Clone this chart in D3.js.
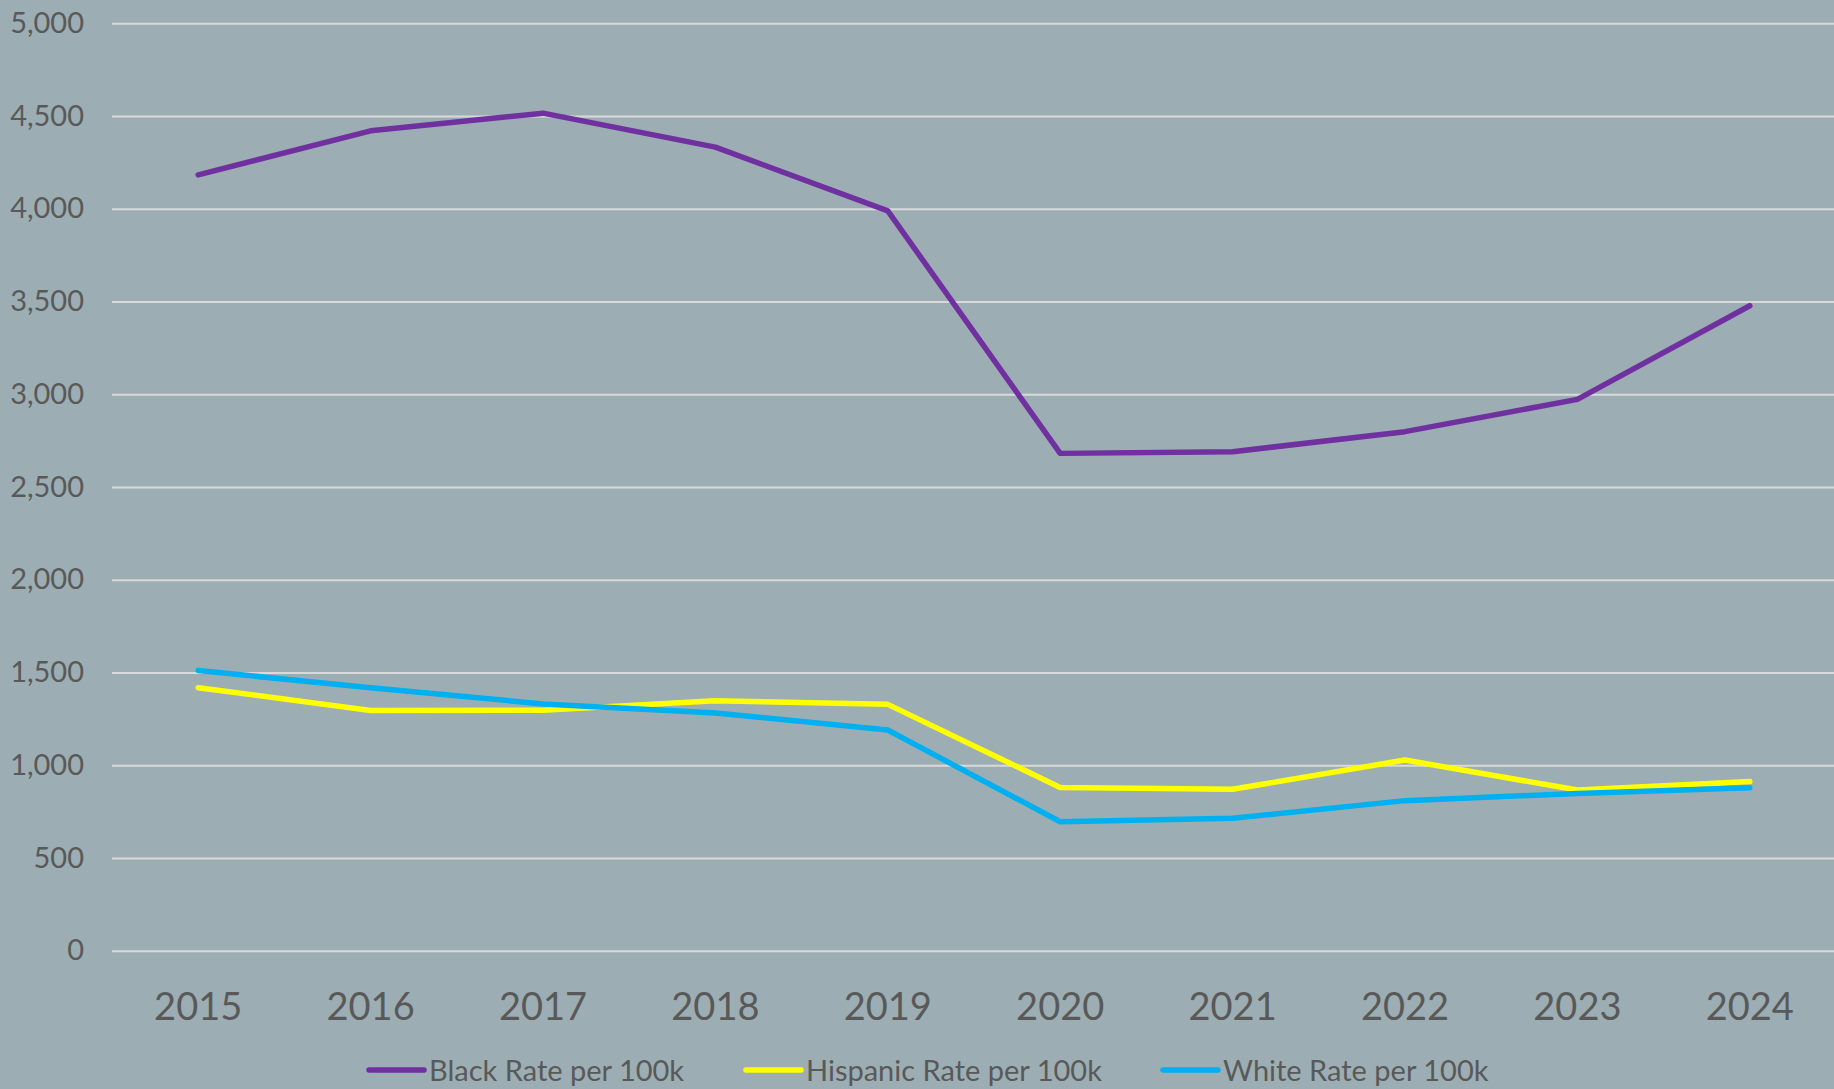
<!DOCTYPE html>
<html>
<head>
<meta charset="utf-8">
<script src="https://cdn.jsdelivr.net/npm/d3@7"></script>
<style>
  html, body { margin: 0; padding: 0; background: #9caeb3; }
  svg { display: block; }
</style>
</head>
<body>
<div id="chart"></div>
<script>
var years = ["2015", "2016", "2017", "2018", "2019", "2020", "2021", "2022", "2023", "2024"];
var black = [4182, 4420, 4515, 4332, 3988, 2681, 2690, 2798, 2972, 3477];
var hispanic = [1418, 1295, 1296, 1347, 1328, 880, 870, 1028, 866, 912];
var white = [1510, 1418, 1330, 1282, 1190, 695, 714, 809, 848, 879];
var yTicks = [0, 500, 1000, 1500, 2000, 2500, 3000, 3500, 4000, 4500, 5000];

var series = [
  { name: "Black Rate per 100k", values: black, color: "#7030a0" },
  { name: "Hispanic Rate per 100k", values: hispanic, color: "#ffff00" },
  { name: "White Rate per 100k", values: white, color: "#00b0f0" }
];

var width = 1834, height = 1089;
var plotLeft = 112, plotRight = 1836, plotTop = 23.2, plotBottom = 950.7;
var textColor = "#595959";
var font = '"Gill Sans", "Gill Sans MT", Lato, sans-serif';

var svg = d3
  .select("#chart")
  .append("svg")
  .attr("width", width)
  .attr("height", height)
  .attr("font-family", font);

var x = d3.scaleBand().domain(years).range([plotLeft, plotRight]).padding(0);
var y = d3.scaleLinear().domain([0, 5000]).range([plotBottom, plotTop]);

// gridlines + y labels
var yAxis = svg
  .append("g")
  .attr("transform", "translate(" + plotLeft + ",0)")
  .call(
    d3.axisLeft(y)
      .tickValues(yTicks)
      .tickSize(-(width - plotLeft))
      .tickPadding(28)
      .tickFormat(d3.format(","))
  )
  .attr("font-family", font);
yAxis.select(".domain").remove();
yAxis.selectAll(".tick line").attr("stroke", "#d9d9d9").attr("stroke-width", 2);
yAxis
  .selectAll(".tick text")
  .attr("fill", textColor)
  .style("font-size", "29px");

// x labels
var xAxis = svg
  .append("g")
  .attr("transform", "translate(0," + plotBottom + ")")
  .call(d3.axisBottom(x).tickSize(0).tickPadding(42))
  .attr("font-family", font);
xAxis.select(".domain").remove();
xAxis
  .selectAll(".tick text")
  .attr("fill", textColor)
  .style("font-size", "38px");

// lines
var line = d3
  .line()
  .x(function (d, i) {
    return x(years[i]) + x.bandwidth() / 2;
  })
  .y(function (d) {
    return y(d);
  });

svg
  .selectAll("path.series")
  .data(series)
  .enter()
  .append("path")
  .attr("class", "series")
  .attr("fill", "none")
  .attr("stroke", function (d) {
    return d.color;
  })
  .attr("stroke-width", 5.5)
  .attr("stroke-linecap", "round")
  .attr("stroke-linejoin", "round")
  .attr("d", function (d) {
    return line(d.values);
  });

// legend
var legendX = [369, 746, 1163];
var legend = svg
  .selectAll("g.legend")
  .data(series)
  .enter()
  .append("g")
  .attr("class", "legend")
  .attr("transform", function (d, i) {
    return "translate(" + legendX[i] + ",1070)";
  });
legend
  .append("line")
  .attr("x1", 0)
  .attr("x2", 55)
  .attr("stroke", function (d) {
    return d.color;
  })
  .attr("stroke-width", 5.5)
  .attr("stroke-linecap", "round");
legend
  .append("text")
  .attr("x", 60)
  .attr("y", 11)
  .attr("fill", textColor)
  .style("font-size", "29px")
  .text(function (d) {
    return d.name;
  });
</script>
</body>
</html>
